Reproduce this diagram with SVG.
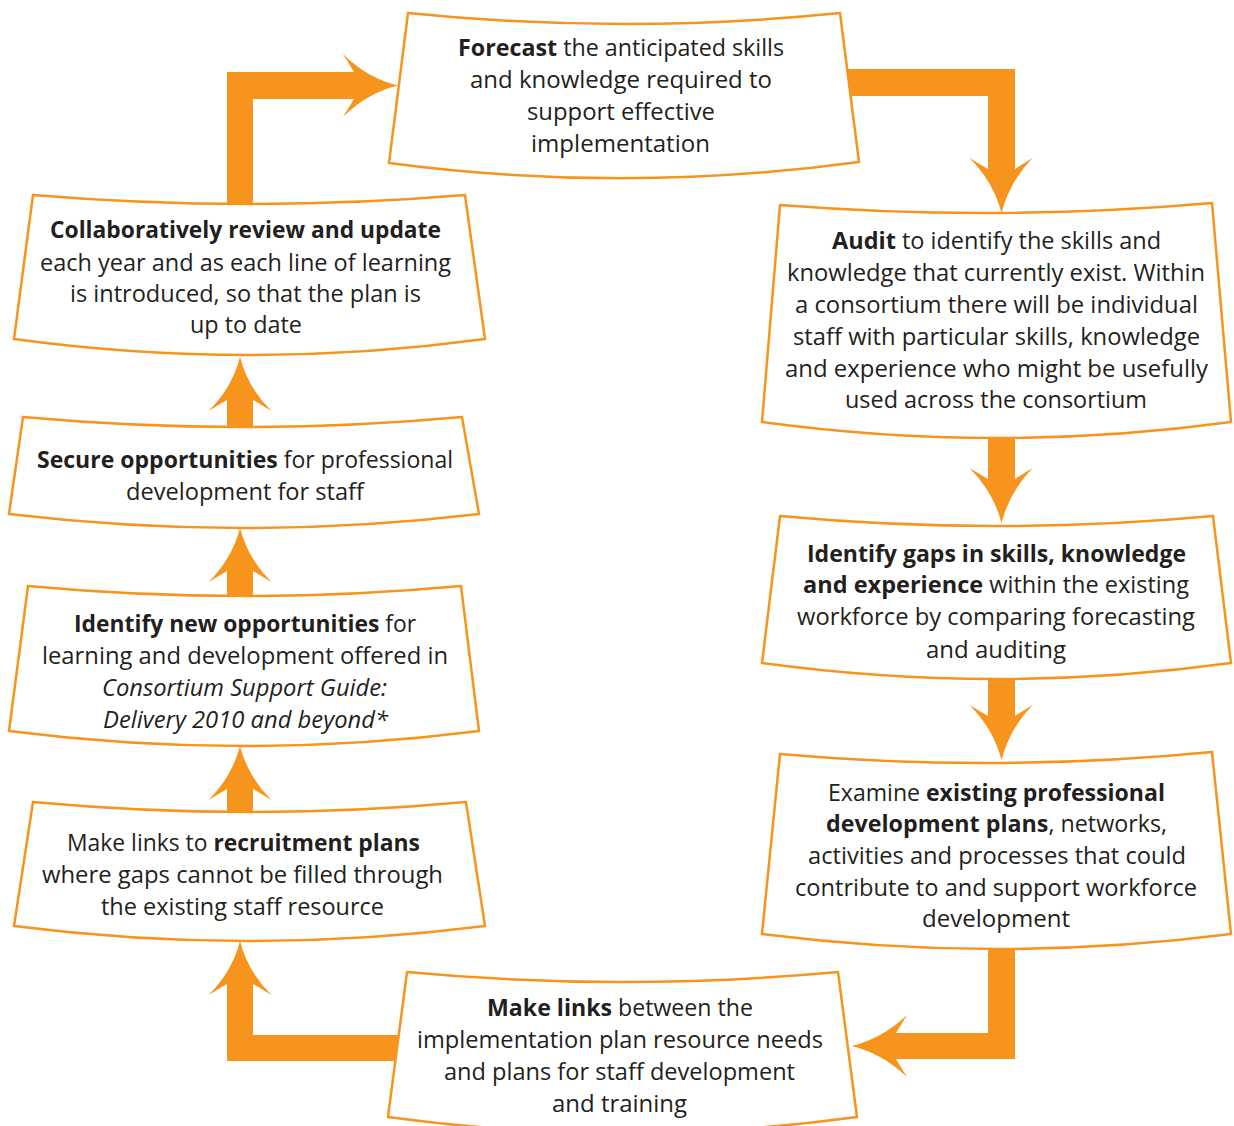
<svg xmlns="http://www.w3.org/2000/svg" width="1234" height="1126" viewBox="0 0 1234 1126">
<style>
.box{fill:#fff;stroke:#F7941D;stroke-width:2.5;stroke-linejoin:miter}
.arr{fill:#F7941D}
.t{font-family:"Open Sans","Noto Sans",sans-serif;font-size:23px;fill:#231F20;text-anchor:middle}
.b{font-weight:bold}
.i{font-style:italic}
</style>
<rect width="1234" height="1126" fill="#fff"/>
<g id="connectors">
<path class="arr" d="M840,69 L1015,69 L1015,169 L1032.5,158 Q1009.5,182 1001.5,213 Q993.5,182 969.5,158 L988,169 L988,96 L840,96 Z"/>
<path class="arr" d="M988,436 L988,479 L969.5,468 Q993.5,492 1001.5,523 Q1009.5,492 1032.5,468 L1015,479 L1015,436 Z"/>
<path class="arr" d="M988,677 L988,716 L969.5,705 Q993.5,729 1001.5,760 Q1009.5,729 1032.5,705 L1015,716 L1015,677 Z"/>
<path class="arr" d="M1015,946 L1015,1059 L896,1059 L907,1077 Q883,1054 852,1046 Q883,1038 907,1015 L896,1033 L988,1033 L988,946 Z"/>
<path class="arr" d="M405,1035 L405,1061 L227,1061 L227,984 L208.5,995 Q232,972 240,941 Q248,972 271.5,995 L253,984 L253,1035 Z"/>
<path class="arr" d="M227,814 L227,789 L208.5,800 Q232,777 240,746 Q248,777 271.5,800 L253,789 L253,814 Z"/>
<path class="arr" d="M227,598 L227,571 L208.5,582 Q232,559 240,528 Q248,559 271.5,582 L253,571 L253,598 Z"/>
<path class="arr" d="M227,428 L227,400 L208.5,411 Q232,388 240,357 Q248,388 271.5,411 L253,400 L253,428 Z"/>
<path class="arr" d="M227,206 L227,72 L354,72 L343,54 Q367,78 398,85.5 Q367,93 343,117 L354,99 L253,99 L253,206 Z"/>
</g>
<g id="forecast">
<path class="box" d="M408,13 Q624,35 840,13 L859,162 Q624,194 389,163 Z"/>
<text class="t" x="621" y="56" textLength="326" lengthAdjust="spacingAndGlyphs"><tspan class="b">Forecast</tspan> the anticipated skills</text>
<text class="t" x="621" y="88" textLength="302" lengthAdjust="spacingAndGlyphs">and knowledge required to</text>
<text class="t" x="621" y="120" textLength="188" lengthAdjust="spacingAndGlyphs">support effective</text>
<text class="t" x="620.5" y="152" textLength="179" lengthAdjust="spacingAndGlyphs">implementation</text>
</g>
<g id="audit">
<path class="box" d="M780,205 Q996,222 1212,203 L1231,422 Q996,454 762,422 Z"/>
<text class="t" x="996.5" y="249" textLength="329" lengthAdjust="spacingAndGlyphs"><tspan class="b">Audit</tspan> to identify the skills and</text>
<text class="t" x="996" y="281" textLength="418" lengthAdjust="spacingAndGlyphs">knowledge that currently exist. Within</text>
<text class="t" x="996.5" y="313" textLength="403" lengthAdjust="spacingAndGlyphs">a consortium there will be individual</text>
<text class="t" x="996.5" y="345" textLength="407" lengthAdjust="spacingAndGlyphs">staff with particular skills, knowledge</text>
<text class="t" x="996.5" y="377" textLength="423" lengthAdjust="spacingAndGlyphs">and experience who might be usefully</text>
<text class="t" x="996" y="408" textLength="302" lengthAdjust="spacingAndGlyphs">used across the consortium</text>
</g>
<g id="gaps">
<path class="box" d="M780,516 Q996,536 1213,516 L1231,663 Q996,695 762,663 Z"/>
<text class="t" x="996.5" y="562" textLength="379" lengthAdjust="spacingAndGlyphs"><tspan class="b">Identify gaps in skills, knowledge</tspan></text>
<text class="t" x="996" y="593" textLength="386" lengthAdjust="spacingAndGlyphs"><tspan class="b">and experience</tspan> within the existing</text>
<text class="t" x="996" y="625" textLength="398" lengthAdjust="spacingAndGlyphs">workforce by comparing forecasting</text>
<text class="t" x="996" y="658" textLength="140" lengthAdjust="spacingAndGlyphs">and auditing</text>
</g>
<g id="examine">
<path class="box" d="M780,754 Q996,773 1212,752 L1231,934 Q996,964 762,934 Z"/>
<text class="t" x="996.5" y="801" textLength="337" lengthAdjust="spacingAndGlyphs">Examine <tspan class="b">existing professional</tspan></text>
<text class="t" x="996.5" y="832" textLength="341" lengthAdjust="spacingAndGlyphs"><tspan class="b">development plans</tspan>, networks,</text>
<text class="t" x="997" y="864" textLength="378" lengthAdjust="spacingAndGlyphs">activities and processes that could</text>
<text class="t" x="996" y="896" textLength="402" lengthAdjust="spacingAndGlyphs">contribute to and support workforce</text>
<text class="t" x="996" y="927" textLength="148" lengthAdjust="spacingAndGlyphs">development</text>
</g>
<g id="makelinks">
<path class="box" d="M407,972 Q622,992 838,972 L857,1117 Q622,1149 388,1117 Z"/>
<text class="t" x="620" y="1016" textLength="266" lengthAdjust="spacingAndGlyphs"><tspan class="b">Make links</tspan> between the</text>
<text class="t" x="620" y="1048" textLength="406" lengthAdjust="spacingAndGlyphs">implementation plan resource needs</text>
<text class="t" x="619.5" y="1080" textLength="351" lengthAdjust="spacingAndGlyphs">and plans for staff development</text>
<text class="t" x="619.5" y="1112" textLength="135" lengthAdjust="spacingAndGlyphs">and training</text>
</g>
<g id="recruitment">
<path class="box" d="M33,802 Q249,822 466,802 L485,926 Q249,956 14,926 Z"/>
<text class="t" x="243.5" y="851" textLength="353" lengthAdjust="spacingAndGlyphs">Make links to <tspan class="b">recruitment plans</tspan></text>
<text class="t" x="242.5" y="883" textLength="401" lengthAdjust="spacingAndGlyphs">where gaps cannot be filled through</text>
<text class="t" x="242.5" y="915" textLength="283" lengthAdjust="spacingAndGlyphs">the existing staff resource</text>
</g>
<g id="newopps">
<path class="box" d="M28,586 Q244,606 461,586 L479,731 Q244,761 9,731 Z"/>
<text class="t" x="245" y="632" textLength="342" lengthAdjust="spacingAndGlyphs"><tspan class="b">Identify new opportunities</tspan> for</text>
<text class="t" x="245" y="664" textLength="406" lengthAdjust="spacingAndGlyphs">learning and development offered in</text>
<text class="t i" x="244.5" y="696" textLength="285" lengthAdjust="spacingAndGlyphs">Consortium Support Guide:</text>
<text class="t i" x="245.5" y="728" textLength="285" lengthAdjust="spacingAndGlyphs">Delivery 2010 and beyond*</text>
</g>
<g id="secure">
<path class="box" d="M23,417 Q244,437 462,417 L479,514 Q244,542 9,514 Z"/>
<text class="t" x="245" y="468" textLength="416" lengthAdjust="spacingAndGlyphs"><tspan class="b">Secure opportunities</tspan> for professional</text>
<text class="t" x="245" y="500" textLength="238" lengthAdjust="spacingAndGlyphs">development for staff</text>
</g>
<g id="review">
<path class="box" d="M33,195 Q249,213 465,195 L485,339 Q249,371 14,339 Z"/>
<text class="t" x="245.5" y="238" textLength="391" lengthAdjust="spacingAndGlyphs"><tspan class="b">Collaboratively review and update</tspan></text>
<text class="t" x="245.5" y="271" textLength="411" lengthAdjust="spacingAndGlyphs">each year and as each line of learning</text>
<text class="t" x="245.5" y="302" textLength="351" lengthAdjust="spacingAndGlyphs">is introduced, so that the plan is</text>
<text class="t" x="246" y="333" textLength="112" lengthAdjust="spacingAndGlyphs">up to date</text>
</g>
</svg>
